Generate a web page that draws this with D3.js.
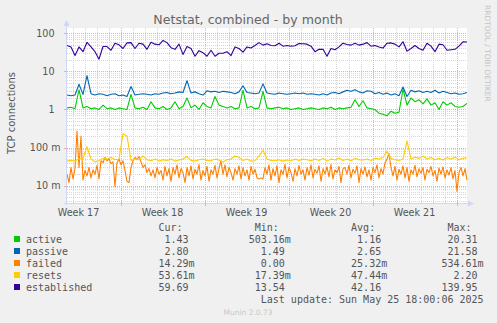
<!DOCTYPE html>
<html>
<head>
<meta charset="utf-8">
<script src="https://cdn.jsdelivr.net/npm/d3@7"></script>
<style>
  html, body { margin: 0; padding: 0; background: #F0F0F0; }
  svg { display: block; }
</style>
</head>
<body>
<svg id="chart" width="497" height="323"></svg>
<script>
// ---------------- DATA ----------------
const titleText = "Netstat, combined - by month";
const yAxisLabel = "TCP connections";
const seriesNames = ["active", "passive", "failed", "resets", "established"];
const rangeStart = Date.UTC(2025, 3, 22, 13);   // Apr 22 2025 13:00
const rangeEnd = Date.UTC(2025, 4, 25, 21);     // May 25 2025 21:00
const stepHours = 8;        // sample spacing for active/passive/resets/established
const failedStepHours = 4;  // sample spacing for failed
const yTickValues = [100, 10, 1, 0.1, 0.01];
const yTickLabels = ["100", "10", "1", "100 m", "10 m"];
const weekLabels = ["Week 17", "Week 18", "Week 19", "Week 20", "Week 21"];

const established = [48,44,26,44,33,58,44,33,21,45,45,36,55,50,40,56,57,40,55,52,
  38,58,52,50,65,57,42,38,52,28,45,40,25,35,31,25,36,25,30,30,
  33,26,44,40,32,44,41,48,57,49,53,48,47,55,46,48,46,47,54,53,
  52,46,33,38,38,25,40,37,44,55,51,49,55,49,52,57,46,48,44,41,
  55,56,52,44,60,34,40,48,40,36,55,46,33,52,50,36,37,38,46,60,59];

const passive = [2.4,2.3,2.4,4.6,2.5,7.7,2.6,2.4,2.6,2.5,2.3,2.5,2.6,2.3,2.4,2.2,4.0,2.4,2.5,2.6,
  2.5,2.4,2.6,2.5,2.7,2.8,2.6,2.7,2.9,2.8,5.7,2.7,2.9,2.6,2.4,3.1,2.9,3.0,2.8,3.0,
  2.9,2.8,2.6,2.9,4.2,2.8,2.7,2.6,2.7,4.7,2.7,2.6,2.5,2.7,2.6,2.5,2.6,2.7,2.6,2.7,
  2.5,2.6,2.5,2.4,2.6,2.4,2.7,2.8,2.6,2.9,3.2,3.0,3.3,2.9,2.7,3.1,3.0,2.6,2.8,2.5,
  2.7,2.4,2.6,2.3,3.9,2.2,3.2,2.9,3.1,2.8,3.0,2.8,3.2,2.7,3.0,2.8,2.6,2.7,2.5,2.6,2.8];

const active = [1.1,1.15,1.05,3.3,1.1,1.2,1.05,1.1,1.0,1.3,1.05,1.1,1.0,1.1,1.05,1.0,2.5,1.1,1.05,1.15,
  1.0,1.6,1.1,1.05,1.2,1.0,1.1,1.6,1.05,1.2,2.0,1.1,1.3,1.0,1.5,1.2,1.1,2.2,1.3,1.2,
  1.1,1.2,1.05,1.1,3.2,1.1,1.2,1.05,1.1,3.0,1.1,1.05,1.1,1.15,1.05,1.1,1.0,1.05,1.1,1.0,
  1.05,1.1,1.05,1.0,1.1,1.05,1.15,1.0,1.1,1.05,1.1,1.15,1.8,1.2,1.7,1.1,1.05,1.0,0.8,0.75,
  0.68,0.9,0.8,0.85,3.4,1.3,2.0,1.6,1.8,1.4,1.9,1.3,1.5,1.0,1.6,1.3,1.5,1.2,1.15,1.2,1.45];

const resets = [0.044,0.046,0.045,0.05,0.052,0.105,0.05,0.042,0.046,0.052,0.05,0.055,0.048,0.05,0.23,0.2,0.046,0.05,0.048,0.06,
  0.048,0.045,0.05,0.044,0.048,0.046,0.05,0.044,0.047,0.05,0.058,0.046,0.044,0.048,0.05,0.046,0.045,0.05,0.047,0.042,
  0.048,0.05,0.06,0.055,0.046,0.05,0.044,0.045,0.06,0.085,0.05,0.046,0.045,0.048,0.044,0.047,0.045,0.05,0.046,0.05,
  0.048,0.045,0.05,0.046,0.052,0.044,0.05,0.047,0.053,0.046,0.05,0.045,0.052,0.048,0.047,0.05,0.046,0.052,0.05,0.055,
  0.08,0.052,0.048,0.046,0.05,0.15,0.05,0.056,0.052,0.06,0.05,0.055,0.048,0.052,0.047,0.055,0.05,0.056,0.048,0.052,0.054];

const failed = [0.02,0.012,0.03,0.015,0.028,0.27,0.03,0.2,0.014,0.025,0.018,0.03,0.016,0.026,0.02,0.034,0.015,0.045,0.04,0.055,
  0.045,0.05,0.038,0.042,0.0095,0.04,0.05,0.035,0.045,0.025,0.013,0.012,0.03,0.045,0.055,0.048,0.058,0.042,0.03,0.035,
  0.022,0.028,0.018,0.026,0.016,0.03,0.02,0.025,0.014,0.032,0.018,0.028,0.013,0.03,0.02,0.035,0.016,0.028,0.022,0.012,
  0.03,0.018,0.033,0.015,0.027,0.02,0.036,0.014,0.025,0.018,0.032,0.013,0.026,0.02,0.034,0.016,0.028,0.045,0.02,0.035,
  0.017,0.03,0.022,0.014,0.028,0.02,0.033,0.015,0.03,0.018,0.026,0.014,0.032,0.02,0.027,0.016,0.015,0.016,0.015,0.03,
  0.02,0.035,0.014,0.028,0.018,0.033,0.012,0.026,0.02,0.036,0.016,0.03,0.022,0.013,0.028,0.018,0.034,0.02,0.026,0.014,
  0.03,0.019,0.035,0.016,0.027,0.021,0.033,0.013,0.028,0.02,0.031,0.017,0.036,0.015,0.026,0.022,0.032,0.012,0.028,0.03,
  0.02,0.034,0.016,0.027,0.021,0.033,0.012,0.028,0.02,0.031,0.017,0.026,0.014,0.03,0.022,0.035,0.016,0.028,0.02,0.04,
  0.05,0.07,0.03,0.018,0.032,0.014,0.027,0.02,0.033,0.016,0.03,0.013,0.026,0.02,0.034,0.017,0.028,0.021,0.03,0.014,
  0.027,0.022,0.032,0.018,0.025,0.013,0.029,0.02,0.031,0.016,0.026,0.019,0.03,0.015,0.025,0.007,0.022,0.03,0.018,0.028,0.014];

const legendCur = ["1.43", "2.80", "14.29m", "53.61m", "59.69"];
const legendMin = ["503.16m", "1.49", "0.00", "17.39m", "13.54"];
const legendAvg = ["1.16", "2.65", "25.32m", "47.44m", "42.16"];
const legendMax = ["20.31", "21.58", "534.61m", "2.20", "139.95"];
const lastUpdate = "Last update: Sun May 25 18:00:06 2025";
const footer = "Munin 2.0.73";
const sideText = "RRDTOOL / TOBI OETIKER";

// ---------------- STYLE / LAYOUT ----------------
const colors = {
  active: "#00CC00", passive: "#0066B3", failed: "#FF8000",
  resets: "#FFCC00", established: "#330099"
};
const plot = { left: 67, right: 467, top: 28, bottom: 203 };
const yDomain = [0.0035, 138];
const textColor = "#555555";
const sans = "'DejaVu Sans', sans-serif";
const mono = "'DejaVu Sans Mono', monospace";

const svg = d3.select("#chart");
svg.append("rect").attr("width", 497).attr("height", 323).attr("fill", "#F0F0F0");

const x = d3.scaleUtc().domain([new Date(rangeStart), new Date(rangeEnd)]).range([plot.left, plot.right]);
const y = d3.scaleLog().domain(yDomain).range([plot.bottom, plot.top]);

// canvas
svg.append("rect")
  .attr("x", plot.left).attr("y", plot.top)
  .attr("width", plot.right - plot.left).attr("height", plot.bottom - plot.top)
  .attr("fill", "#FFFFFF");

const grid = svg.append("g");
const minorColor = "#d6d6d6";
const majorColor = "#eaaeae";

// horizontal grid (log)
const hMinor = [], hMajor = [];
for (let k = -3; k <= 2; k++) {
  for (let m = 1; m <= 9; m++) {
    const v = m * Math.pow(10, k);
    if (v < yDomain[0] || v > yDomain[1]) continue;
    (m === 1 ? hMajor : hMinor).push(v);
  }
}
grid.selectAll("line.hmin").data(hMinor).join("line")
  .attr("x1", plot.left).attr("x2", plot.right)
  .attr("y1", d => Math.round(y(d)) + 0.5).attr("y2", d => Math.round(y(d)) + 0.5)
  .attr("stroke", minorColor).attr("stroke-dasharray", "1,1").attr("shape-rendering", "crispEdges");

// vertical grid
const days = d3.utcDay.range(new Date(rangeStart), new Date(rangeEnd));
const weeks = d3.utcSunday.range(new Date(rangeStart), new Date(rangeEnd));
const weekSet = new Set(weeks.map(d => +d));
const dayMinor = days.filter(d => !weekSet.has(+d));
grid.selectAll("line.vmin").data(dayMinor).join("line")
  .attr("x1", d => Math.round(x(d)) + 0.5).attr("x2", d => Math.round(x(d)) + 0.5)
  .attr("y1", plot.top).attr("y2", plot.bottom)
  .attr("stroke", minorColor).attr("stroke-dasharray", "1,1").attr("shape-rendering", "crispEdges");

grid.selectAll("line.hmaj").data(hMajor).join("line")
  .attr("x1", plot.left).attr("x2", plot.right)
  .attr("y1", d => Math.round(y(d)) + 0.5).attr("y2", d => Math.round(y(d)) + 0.5)
  .attr("stroke", majorColor).attr("stroke-dasharray", "1,1").attr("shape-rendering", "crispEdges");
grid.selectAll("line.vmaj").data(weeks).join("line")
  .attr("x1", d => Math.round(x(d)) + 0.5).attr("x2", d => Math.round(x(d)) + 0.5)
  .attr("y1", plot.top).attr("y2", plot.bottom)
  .attr("stroke", majorColor).attr("stroke-dasharray", "1,1").attr("shape-rendering", "crispEdges");

// series
function toPoints(values, hours) {
  return values.map((v, i) => ({ t: new Date(rangeStart + i * hours * 3600000), v }));
}
const seriesData = {
  active: toPoints(active, stepHours),
  passive: toPoints(passive, stepHours),
  failed: toPoints(failed, failedStepHours),
  resets: toPoints(resets, stepHours),
  established: toPoints(established, stepHours)
};
const line = d3.line().x(d => x(d.t)).y(d => y(d.v));
const lines = svg.append("g");
seriesNames.forEach(name => {
  lines.append("path")
    .attr("d", line(seriesData[name]))
    .attr("fill", "none")
    .attr("stroke", colors[name])
    .attr("stroke-width", 1.1)
    .attr("stroke-linejoin", "round");
});

// axes
const axisColor = "#CFD6F8";
const ax = svg.append("g");
ax.append("line").attr("x1", plot.left - 0.5).attr("x2", plot.left - 0.5)
  .attr("y1", plot.bottom + 2).attr("y2", plot.top - 4)
  .attr("stroke", axisColor).attr("shape-rendering", "crispEdges");
ax.append("line").attr("x1", plot.left - 3).attr("x2", plot.right + 2)
  .attr("y1", plot.bottom + 0.5).attr("y2", plot.bottom + 0.5)
  .attr("stroke", axisColor).attr("shape-rendering", "crispEdges");
ax.append("path")
  .attr("d", `M${plot.left - 3.5},${plot.top - 2} L${plot.left + 2.5},${plot.top - 2} L${plot.left - 0.5},${plot.top - 8} Z`)
  .attr("fill", axisColor);
ax.append("path")
  .attr("d", `M${plot.right + 1},${plot.bottom - 2.5} L${plot.right + 1},${plot.bottom + 3.5} L${plot.right + 7},${plot.bottom + 0.5} Z`)
  .attr("fill", axisColor);
// axis ticks
ax.selectAll("line.yt").data(hMajor).join("line")
  .attr("x1", plot.left - 3).attr("x2", plot.left)
  .attr("y1", d => Math.round(y(d)) + 0.5).attr("y2", d => Math.round(y(d)) + 0.5)
  .attr("stroke", majorColor).attr("shape-rendering", "crispEdges");
ax.selectAll("line.xt").data(weeks).join("line")
  .attr("x1", d => Math.round(x(d)) + 0.5).attr("x2", d => Math.round(x(d)) + 0.5)
  .attr("y1", plot.bottom).attr("y2", plot.bottom + 3)
  .attr("stroke", majorColor).attr("shape-rendering", "crispEdges");

// y tick labels
yTickValues.forEach((v, i) => {
  const lbl = yTickLabels[i];
  const hasUnit = /m$/.test(lbl);
  svg.append("text")
    .attr("x", hasUnit ? 60.5 : 54.5)
    .attr("y", y(v) + 3.5)
    .attr("text-anchor", "end")
    .attr("font-family", sans).attr("font-size", 9.6)
    .attr("fill", textColor)
    .text(lbl);
});

// x week labels (centred mid-week)
const weekStarts = [new Date(Date.UTC(2025, 3, 20))].concat(weeks);
weekLabels.forEach((lbl, i) => {
  const mid = new Date(+weekStarts[i] + 3.5 * 86400000);
  svg.append("text")
    .attr("x", x(mid))
    .attr("y", 215.5)
    .attr("text-anchor", "middle")
    .attr("font-family", sans).attr("font-size", 9.6)
    .attr("fill", textColor)
    .text(lbl);
});

// title
svg.append("text").attr("x", 248).attr("y", 24)
  .attr("text-anchor", "middle")
  .attr("font-family", sans).attr("font-size", 12.6)
  .attr("fill", "#666666")
  .text(titleText);

// y axis label
svg.append("text")
  .attr("transform", "translate(15,113) rotate(-90)")
  .attr("text-anchor", "middle")
  .attr("font-family", sans).attr("font-size", 10)
  .attr("fill", textColor)
  .text(yAxisLabel);

// side text
svg.append("text")
  .attr("transform", "translate(485,5) rotate(90)")
  .attr("font-family", sans).attr("font-size", 7.5)
  .attr("fill", "#c4c4c4")
  .text(sideText);

// legend
const lx = 26, cw = 6.02;
const rowBase = [243, 255, 267, 279, 291];
const headers = [["Cur:", 22], ["Min:", 38], ["Avg:", 54], ["Max:", 70]];
const leg = svg.append("g").attr("font-family", mono).attr("font-size", 10).attr("fill", textColor);
headers.forEach(([h, col]) => {
  leg.append("text").attr("x", lx + col * cw).attr("y", 231).text(h);
});
const cols = [legendCur, legendMin, legendAvg, legendMax];
const endCols = [27, 43, 59, 75];
seriesNames.forEach((name, r) => {
  svg.append("rect").attr("x", 14).attr("y", rowBase[r] - 7)
    .attr("width", 6).attr("height", 6).attr("fill", colors[name]);
  leg.append("text").attr("x", lx).attr("y", rowBase[r]).text(name);
  cols.forEach((arr, c) => {
    const s = arr[r];
    const full = /m$/.test(s) ? s : s + " ";
    const startCol = endCols[c] + 1 - full.length;
    leg.append("text").attr("x", lx + startCol * cw).attr("y", rowBase[r]).text(s);
  });
});
leg.append("text").attr("x", lx + (76 - lastUpdate.length) * cw).attr("y", 303).text(lastUpdate);

svg.append("text").attr("x", 248).attr("y", 314.5)
  .attr("text-anchor", "middle")
  .attr("font-family", sans).attr("font-size", 7.5)
  .attr("fill", "#c8c8c8")
  .text(footer);
</script>
</body>
</html>
